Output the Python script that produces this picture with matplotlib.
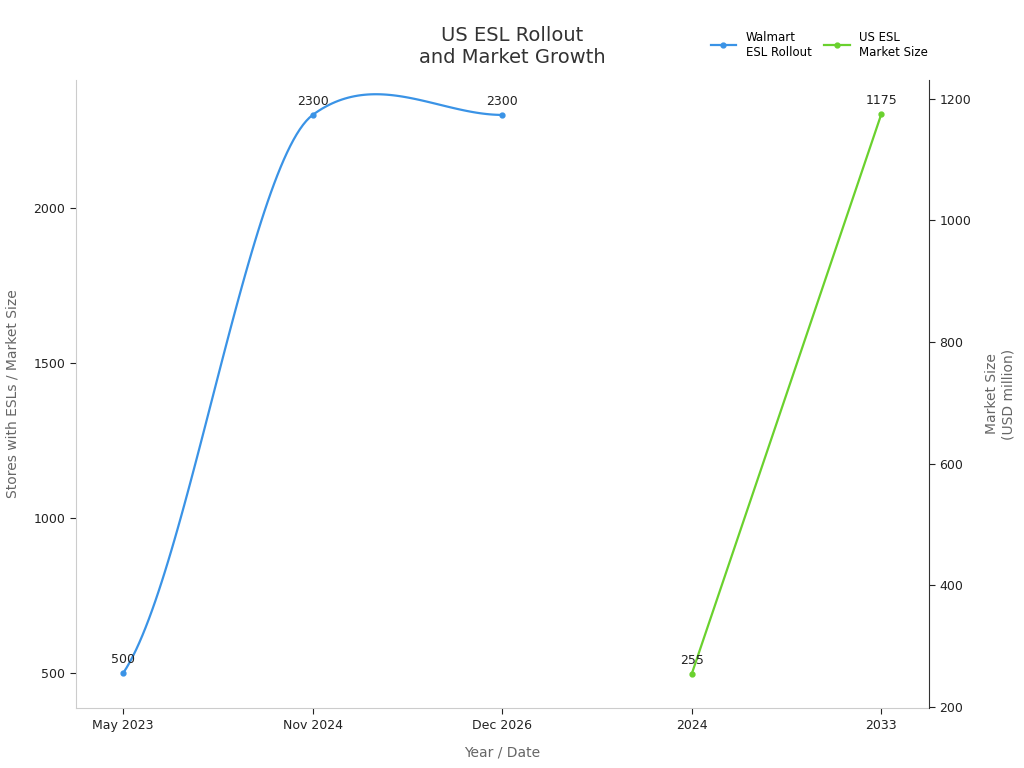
import numpy as np
import matplotlib.pyplot as plt

# data ========================================================================

categories = ["May 2023", "Nov 2024", "Dec 2026", "2024", "2033"]
walmart_x = [0, 1, 2]
walmart_stores = [500, 2300, 2300]
market_x = [3, 4]
market_size = [255, 1175]

blue = "#3a93e6"
green = "#6ad12e"


def smooth(xs, ys, n=60):
    # cardinal spline (tension 0.5) through the points
    xs = np.asarray(xs, float)
    ys = np.asarray(ys, float)
    m = np.zeros_like(ys)
    for i in range(len(ys)):
        a = max(i - 1, 0)
        b = min(i + 1, len(ys) - 1)
        m[i] = 0.5 * (ys[b] - ys[a]) / (xs[b] - xs[a]) * (xs[1] - xs[0])
    px, py = [], []
    for i in range(len(ys) - 1):
        t = np.linspace(0, 1, n)
        h00 = 2 * t**3 - 3 * t**2 + 1
        h10 = t**3 - 2 * t**2 + t
        h01 = -2 * t**3 + 3 * t**2
        h11 = t**3 - t**2
        px.extend(xs[i] + t * (xs[i + 1] - xs[i]))
        py.extend(h00 * ys[i] + h10 * m[i] + h01 * ys[i + 1] + h11 * m[i + 1])
    return px, py


fig = plt.figure(figsize=(10.24, 7.68), dpi=100)
ax = fig.add_axes([0.074, 0.078, 0.833, 0.818])
ax2 = ax.twinx()

sx, sy = smooth(walmart_x, walmart_stores)
ax.plot(sx, sy, color=blue, lw=1.6)
ax.plot(walmart_x, walmart_stores, "o", color=blue, ms=3.5)
ax2.plot(market_x, market_size, color=green, lw=1.6, marker="o", ms=3.5)

for x, y in zip(walmart_x, walmart_stores):
    ax.annotate(str(y), (x, y), xytext=(0, 5), textcoords="offset points",
                ha="center", va="bottom", fontsize=9, color="#222222")
for x, y in zip(market_x, market_size):
    ax2.annotate(str(y), (x, y), xytext=(0, 5), textcoords="offset points",
                 ha="center", va="bottom", fontsize=9, color="#222222")

ax.set_xlim(-0.25, 4.25)
ax.set_ylim(387, 2413)
ax2.set_ylim(198.4, 1231)
ax.set_xticks(range(len(categories)))
ax.set_xticklabels(categories)
ax.set_yticks([500, 1000, 1500, 2000])
ax2.set_yticks([200, 400, 600, 800, 1000, 1200])

for a in (ax, ax2):
    a.spines["top"].set_visible(False)
    a.tick_params(labelsize=9, colors="#222222", length=4)
ax.spines["right"].set_visible(False)
ax.spines["left"].set_color("#cccccc")
ax.spines["bottom"].set_color("#cccccc")
ax2.spines["left"].set_visible(False)
ax2.spines["bottom"].set_visible(False)
ax2.spines["right"].set_color("#333333")

ax.set_xlabel("Year / Date", fontsize=10, color="#666666", labelpad=10)
ax.set_ylabel("Stores with ESLs / Market Size", fontsize=10, color="#666666", labelpad=10)
ax2.set_ylabel("Market Size\n(USD million)", fontsize=10, color="#666666", labelpad=10)

fig.text(0.5, 0.94, "US ESL Rollout\nand Market Growth", ha="center", va="center",
         fontsize=14, color="#333333")

h1, = ax.plot([], [], color=blue, marker="o", ms=3.5, lw=1.6)
h2, = ax.plot([], [], color=green, marker="o", ms=3.5, lw=1.6)
fig.legend([h1, h2], ["Walmart\nESL Rollout", "US ESL\nMarket Size"], ncol=2,
           loc="center", bbox_to_anchor=(0.8, 0.942), frameon=False, fontsize=8.5,
           handlelength=2.2, columnspacing=1.0)

fig.savefig("out.png", dpi=100)
